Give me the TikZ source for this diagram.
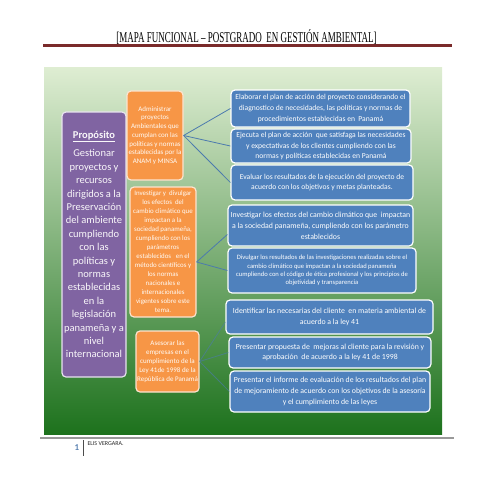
\documentclass[tikz,border=0pt]{standalone}
\usepackage{fontspec}
\setmainfont{Carlito}
\newfontfamily\hdrfont{Liberation Serif}[FakeStretch=0.6]
\usetikzlibrary{calc}
\definecolor{purp}{HTML}{8064A2}
\definecolor{purpedge}{HTML}{E8E2EF}
\definecolor{orng}{HTML}{F79646}
\definecolor{orngedge}{HTML}{FCE3CF}
\definecolor{blu}{HTML}{4F81BD}
\definecolor{linkc}{HTML}{4C7AAE}
\definecolor{hdrred}{HTML}{7A2A2A}
\definecolor{gtop}{HTML}{DEEDD2}
\definecolor{gmid}{HTML}{8CC063}
\definecolor{gbot}{HTML}{1D721D}
\newcommand\fsz[2]{\fontsize{#1}{#2}\selectfont}
\tikzset{
  boxbase/.style={rounded corners=4pt, line width=1.2pt, inner sep=1pt, align=center, text=white},
  bluebox/.style={boxbase, fill=blu, draw=white},
  orangebox/.style={boxbase, fill=orng, draw=orngedge, text=white!96!orange},
  purplebox/.style={boxbase, fill=purp, draw=purpedge, text=white!95!purp},
  link/.style={draw=linkc, line width=0.8pt},
}
\begin{document}
\begin{tikzpicture}[x=1pt,y=-1pt]
\useasboundingbox (0,0) rectangle (495,495);
% header
\node[font=\hdrfont\fsz{15}{17}, text=black] (hdr) at (246.5,37) {[MAPA FUNCIONAL – POSTGRADO\ \ EN GESTIÓN AMBIENTAL]};
\draw[hdrred, line width=3pt] (43,46) -- (452,46);
% background
\shade[top color=gtop, middle color=gmid, bottom color=gbot] (44,68) rectangle (442,434);
% footer
\draw[gray!80, line width=2pt] (40,438) -- (454,438);
\draw[black!70, line width=0.7pt] (83,440) -- (83,456);
\node[font=\bfseries\fsz{9}{10}, text=blu!80!gray] (pg) at (77,448) {1};
\node[font=\fsz{6}{7}, text=black!85, anchor=west] (auth) at (84,444) {ELIS VERGARA.};
% purple
\node[purplebox, minimum width=64pt, minimum height=265pt, font=\fsz{10.5}{13.4}] (p) at (94,244.5)
 {\underline{\textbf{Propósito}}\\[5pt]Gestionar\\proyectos y\\recursos\\dirigidos a la\\Preservación\\del ambiente\\cumpliendo\\con las\\políticas y\\normas\\establecidas\\en la\\legislación\\panameña y a\\nivel\\internacional};
% orange
\node[orangebox, minimum width=56pt, minimum height=89pt, font=\fsz{7}{8.7}] (o1) at (155,135.5)
 {Administrar\\proyectos\\Ambientales que\\cumplan con las\\políticas y normas\\establecidas por la\\ANAM y MINSA};
\node[orangebox, minimum width=66pt, minimum height=130pt, font=\fsz{6.9}{9}] (o2) at (163,252)
 {Investigar y\ \ divulgar\\los efectos\ \ del\\cambio climático que\\impactan a la\\sociedad panameña,\\cumpliendo con los\\parámetros\\establecidos\ \ \ en el\\método científicos y\\los normas\\nacionales e\\internacionales\\vigentes sobre este\\tema.};
\node[orangebox, minimum width=63pt, minimum height=61pt, font=\fsz{7}{8.9}] (o3) at (167.5,361.5)
 {Asesorar las\\empresas en el\\cumplimiento de la\\Ley 41de 1998 de la\\República de Panamá};
% blue
\node[bluebox, minimum width=179pt, minimum height=37pt, font=\fsz{7.6}{10.7}] (b1) at (320.5,108.5)
 {Elaborar el plan de acción del proyecto considerando el\\diagnostico de necesidades, las políticas y normas de\\procedimientos establecidas en\ \ Panamá};
\node[bluebox, minimum width=180pt, minimum height=34pt, font=\fsz{7.6}{10.7}] (b2) at (321,146)
 {Ejecuta el plan de acción\ \ que satisfaga las necesidades\\y expectativas de los clientes cumpliendo con las\\normas y políticas establecidas en Panamá};
\node[bluebox, minimum width=182pt, minimum height=35pt, font=\fsz{7.6}{10.7}] (b3) at (322,182.5)
 {Evaluar los resultados de la ejecución del proyecto de\\acuerdo con los objetivos y metas planteadas.};
\node[bluebox, minimum width=185pt, minimum height=41pt, font=\fsz{7.8}{11}] (b4) at (320.5,225.5)
 {Investigar los efectos del cambio climático que\ \ impactan\\a la sociedad panameña, cumpliendo con los parámetro\\establecidos};
\node[bluebox, minimum width=188pt, minimum height=45pt, font=\fsz{6.6}{8.4}] (b5) at (322,270.5)
 {Divulgar los resultados de las investigaciones realizadas sobre el\\cambio climático que impactan a la sociedad panameña\\cumpliendo con el código de ética profesional y los principios de\\objetividad y transparencia};
\node[bluebox, minimum width=207pt, minimum height=34pt, font=\fsz{7.8}{11.5}] (b6) at (329.5,317)
 {Identificar las necesarias del cliente\ \ en materia ambiental de\\acuerdo a la ley 41};
\node[bluebox, minimum width=202pt, minimum height=31pt, font=\fsz{7.8}{10.8}] (b7) at (330,352.5)
 {Presentar propuesta de\ \ mejoras al cliente para la revisión y\\aprobación\ \ de acuerdo a la ley 41 de 1998};
\node[bluebox, minimum width=200pt, minimum height=41pt, font=\fsz{7.8}{10.8}] (b8) at (330,391.5)
 {Presentar el informe de evaluación de los resultados del plan\\de mejoramiento de acuerdo con los objetivos de la asesoría\\y el cumplimiento de las leyes};
% connectors
\coordinate (j2) at ($(o2.east)+(0,10)$);
\coordinate (t4) at ($(b4.west)+(0,9)$);
\coordinate (t6) at ($(b6.west)+(0,5)$);
\draw[link] (o1.east) -- (b1.west);
\draw[link] (o1.east) -- (b2.west);
\draw[link] (o1.east) -- (b3.west);
\draw[link] (j2) -- (t4);
\draw[link] (j2) -- (b5.west);
\draw[link, opacity=0.6] (o3.east) -- (t6);
\draw[link, opacity=0.6] (o3.east) -- (b7.west);
\draw[link, opacity=0.6] (o3.east) -- (b8.west);
\end{tikzpicture}
\end{document}
